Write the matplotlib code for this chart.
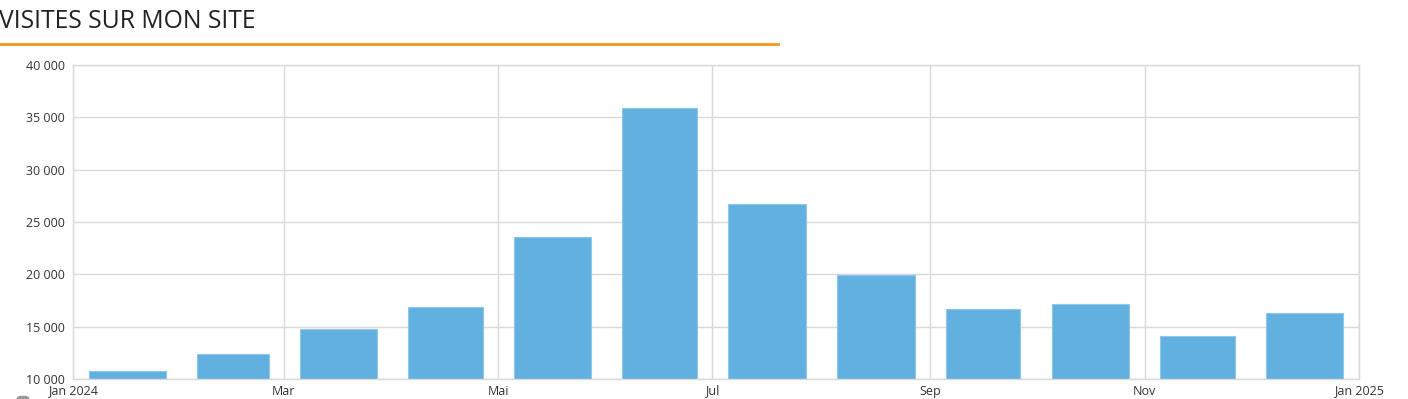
import matplotlib
matplotlib.use('Agg')
import matplotlib.pyplot as plt
import matplotlib.dates as mdates
from matplotlib.ticker import FuncFormatter
from matplotlib.patches import Circle
import pandas as pd

# Data
months = pd.date_range('2024-01-01', periods=12, freq='MS')
visits = [10750, 12400, 14800, 16850, 23600, 35900, 26700, 19950, 16650, 17150, 14150, 16300]
tick_dates = pd.to_datetime(['2024-01-01', '2024-03-01', '2024-05-01', '2024-07-01',
                             '2024-09-01', '2024-11-01', '2025-01-01'])
tick_labels = ['Jan 2024', 'Mar', 'Mai', 'Jul', 'Sep', 'Nov', 'Jan 2025']
y_ticks = [10000, 15000, 20000, 25000, 30000, 35000, 40000]

bar_color = '#62b0e0'
grid_color = '#d9d9d9'
text_color = '#333333'

plt.rcParams['font.family'] = ['Open Sans', 'DejaVu Sans']

fig = plt.figure(figsize=(14.08, 3.99), dpi=100)
ax = fig.add_axes([73 / 1408, 1 - 379 / 399, (1359 - 73) / 1408, (379 - 65) / 399])

# bar centred in each month, ~71% of the month wide
days = months.days_in_month
centers = months + pd.to_timedelta(days / 2, unit='D')
x = mdates.date2num(centers)
ax.bar(x, visits, width=days * 0.71, bottom=0, color=bar_color,
       edgecolor='#8fc6ea', linewidth=0.8, zorder=2)

ax.set_xlim(mdates.date2num(pd.Timestamp('2024-01-01')), mdates.date2num(pd.Timestamp('2025-01-01')))
ax.set_ylim(10000, 40000)
ax.set_xticks(mdates.date2num(tick_dates))
ax.set_xticklabels(tick_labels)
ax.set_yticks(y_ticks)
ax.yaxis.set_major_formatter(FuncFormatter(lambda v, p: f'{int(v):,}'.replace(',', ' ')))

ax.grid(True, color=grid_color, linewidth=1, zorder=0)
ax.set_axisbelow(True)
for s in ax.spines.values():
    s.set_color(grid_color)
    s.set_linewidth(1)
ax.tick_params(length=0, labelsize=9, colors=text_color, pad=6)
ax.tick_params(axis='x', pad=4)

# Title and orange underline
fig.text(-0.001, 1 - 21 / 399, 'VISITES SUR MON SITE', fontsize=17.8, color='#222222',
         ha='left', va='center')
fig.add_artist(plt.Line2D([0, 778 / 1408], [1 - 44 / 399, 1 - 44 / 399],
                          color='#f7941d', linewidth=2, transform=fig.transFigure))

# small cut-off legend marker at the bottom left
fig.add_artist(Circle((23 / 1408, 1 - 398 / 399), 0.004, color='#999999',
                      transform=fig.transFigure, clip_on=False))

fig.savefig('out.png', dpi=100)
